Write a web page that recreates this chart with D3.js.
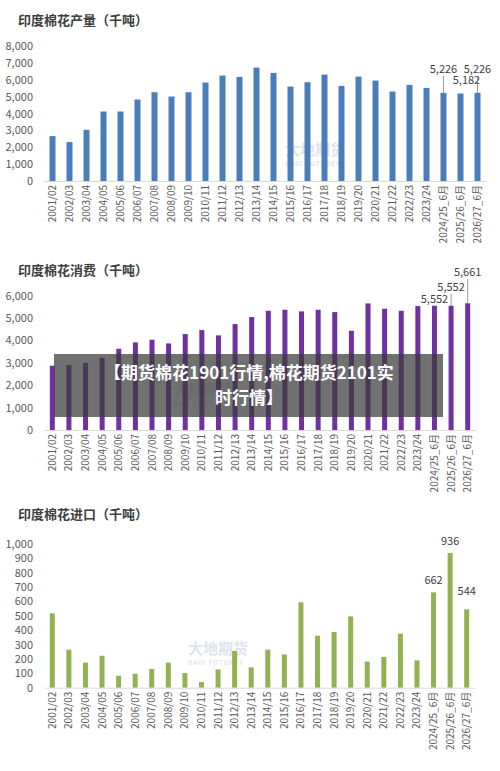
<!DOCTYPE html>
<html><head><meta charset="utf-8">
<script src="https://cdn.jsdelivr.net/npm/d3@7"></script>
<style>body{margin:0;background:#fff}svg{display:block}</style>
</head><body>
<svg id="c" width="500" height="771"></svg>
<script>
const categories=["2001/02","2002/03","2003/04","2004/05","2005/06","2006/07","2007/08","2008/09","2009/10","2010/11","2011/12","2012/13","2013/14","2014/15","2015/16","2016/17","2017/18","2018/19","2019/20","2020/21","2021/22","2022/23","2023/24","2024/25_6月","2025/26_6月","2026/27_6月"];
const production=[2660,2305,3035,4118,4118,4828,5261,5005,5261,5833,6246,6167,6719,6404,5596,5852,6305,5635,6187,5950,5300,5694,5517,5226,5182,5226];
const consumption=[2872,2900,3000,3230,3630,3914,4033,3869,4286,4464,4226,4732,5045,5327,5372,5298,5372,5268,4435,5655,5417,5327,5536,5552,5552,5661];
const imports=[516,264,174,222,83,97,130,174,102,39,127,255,141,264,231,593,361,387,495,181,213,375,190,662,936,544];
const prodTicks=[0,1000,2000,3000,4000,5000,6000,7000,8000];
const consTicks=[0,1000,2000,3000,4000,5000,6000];
const impTicks=[0,100,200,300,400,500,600,700,800,900,1000];
const titles=["印度棉花产量（千吨）","印度棉花消费（千吨）","印度棉花进口（千吨）"];

const svg=d3.select("#c");
const font="'Noto Sans CJK SC','Noto Sans',sans-serif";
const fmt=d3.format(",");

function chart(o){
  const g=svg.append("g");
  g.append("text").attr("x",18).attr("y",o.titleY).attr("font-family",font).attr("font-weight","bold")
    .attr("font-size",13).attr("fill","#404040").text(o.title);
  const x=d3.scaleBand().domain(categories).range([o.x0,o.x1]).paddingInner(o.pad).paddingOuter(o.pad/2);
  const y=d3.scaleLinear().domain([0,o.ticks[o.ticks.length-1]]).range([o.yb,o.yt]);
  // watermark
  g.append("text").attr("x",o.wx).attr("y",o.wy).attr("font-family",font).attr("font-size",15).attr("font-weight","bold")
    .attr("fill","#c9d3e3").attr("opacity",0.6).text("大地期货");
  g.append("text").attr("x",o.wx).attr("y",o.wy+11).attr("font-family",font).attr("font-size",6).attr("font-weight","bold")
    .attr("fill","#c9d3e3").attr("opacity",0.6).attr("letter-spacing",1).text("DADI FUTURES");
  const ya=d3.axisLeft(y).tickValues(o.ticks).tickFormat(fmt).tickSize(0).tickPadding(0);
  const ay=g.append("g").attr("transform",`translate(33,0)`).call(ya);
  ay.select(".domain").remove();
  ay.selectAll("text").attr("font-family",font).attr("font-size",11).attr("fill","#595959");
  g.selectAll(".bar").data(o.values).join("rect")
    .attr("x",(d,i)=>x(categories[i])+x.bandwidth()/2-o.bw/2).attr("width",o.bw)
    .attr("y",d=>y(d)).attr("height",d=>o.yb-y(d)).attr("fill",o.color);
  const xa=d3.axisBottom(x).tickSize(0).tickPadding(0);
  const ax=g.append("g").attr("transform",`translate(0,${o.yb})`).call(xa);
  ax.select(".domain").attr("stroke","#d9d9d9");
  ax.selectAll("text").attr("font-family",font).attr("font-size",10).attr("fill","#595959")
    .attr("transform","rotate(-90)").attr("text-anchor","end").attr("dx",-4).attr("dy","0.35em").attr("y",0);
  o.labels.forEach(l=>{
    const i=l.i, cx=x(categories[i])+x.bandwidth()/2+(l.dx||0);
    const ty=l.leader?l.ty:y(o.values[i])-(l.off||4);
    if(l.leader){
      g.append("line").attr("x1",cx).attr("x2",cx).attr("y1",ty+3).attr("y2",y(o.values[i]))
        .attr("stroke","#7f7f7f").attr("stroke-width",0.8);
    }
    g.append("text").attr("x",cx+(l.tdx||0)).attr("y",ty).attr("text-anchor","middle").attr("font-family",font)
      .attr("font-size",11).attr("fill","#404040").text(fmt(o.values[i]));
  });
}
chart({title:titles[0],titleY:25,values:production,ticks:prodTicks,x0:44,x1:486,yb:181,yt:46,pad:0.64,bw:6,color:"#4A7EBB",wx:285,wy:155,
  labels:[{i:23,leader:true,ty:73},{i:24,leader:false,off:10,tdx:6},{i:25,leader:true,ty:73}]});
chart({title:titles[1],titleY:275,values:consumption,ticks:consTicks,x0:44,x1:476,yb:430,yt:295.7,pad:0.7,bw:5,color:"#7030A0",wx:173,wy:395,
  labels:[{i:23,leader:false,off:3},{i:24,leader:true,ty:291},{i:25,leader:true,ty:276}]});
chart({title:titles[2],titleY:519,values:imports,ticks:impTicks,x0:44,x1:475,yb:687.7,yt:543.7,pad:0.7,bw:5,color:"#92B150",wx:188,wy:654,
  labels:[{i:23,leader:false,off:8},{i:24,leader:false,off:8},{i:25,leader:false,off:14}]});
// overlay banner
svg.append("rect").attr("x",54).attr("y",354).attr("width",389).attr("height",63).attr("fill","#3a3a3a").attr("opacity",0.72);
svg.append("text").attr("x",249).attr("y",379).attr("text-anchor","middle").attr("font-family",font).attr("font-weight","bold")
  .attr("font-size",17).attr("fill","#fff").text("【期货棉花1901行情,棉花期货2101实");
svg.append("text").attr("x",249).attr("y",404).attr("text-anchor","middle").attr("font-family",font).attr("font-weight","bold")
  .attr("font-size",17).attr("fill","#fff").text("时行情】");
</script>
</body></html>
